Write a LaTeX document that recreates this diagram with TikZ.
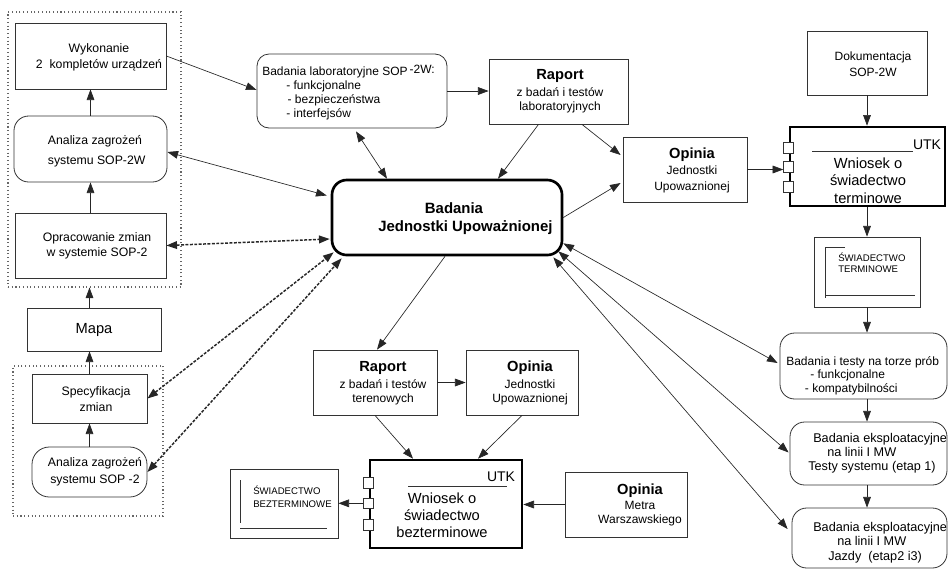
\documentclass[tikz,border=0pt]{standalone}
\usepackage{fontspec}
\setmainfont{Liberation Sans}
\usetikzlibrary{arrows.meta,calc}
\begin{document}
\begin{tikzpicture}[x=0.75pt,y=-0.75pt,
  bx/.style 2 args={minimum width=#1*0.75pt, minimum height=#2*0.75pt},
  box/.style={draw=black!80, line width=0.6pt, inner sep=0pt},
  rbox/.style={box, rounded corners=11pt},
  tbox/.style={draw=black, line width=2pt, inner sep=0pt},
  grp/.style={draw=black!60, dotted, line width=0.8pt, inner sep=0pt},
  txt/.style={inner sep=0pt, align=center, text=black},
  ltxt/.style={inner sep=0pt, align=left, anchor=west, text=black},
  arr/.style={-{Triangle[length=8pt,width=5.8pt]}, line width=0.5pt, draw=black!85},
  darr/.style={{Triangle[length=8pt,width=5.8pt]}-{Triangle[length=8pt,width=5.8pt]}, line width=0.5pt, draw=black!85},
  dotarr/.style={{Triangle[length=8pt,width=5.8pt]}-{Triangle[length=8pt,width=5.8pt]}, line width=1.1pt, dash pattern=on 2.2pt off 1.1pt, draw=black!85},
  sq/.style={draw=black!80, line width=0.6pt, fill=white, inner sep=0pt, minimum width=7.5pt, minimum height=8pt}
]
\useasboundingbox (0,0) rectangle (948,569);

% ---------- left column ----------
\node[grp, bx={173}{275}] (grp1) at (94.5,149.5) {};
\node[box, bx={151}{66}] (wyk) at (90.5,56) {};
\node[txt, font=\fontsize{9.2}{12}\selectfont] (wykT) at (99,57) {Wykonanie\\2\ \ kompletów urządzeń};
\node[rbox, bx={153}{66}] (an2w) at (90.5,149) {};
\node[txt, font=\fontsize{9.2}{15}\selectfont] (an2wT) at (95,151) {Analiza zagrożeń\\\ systemu SOP-2W};
\node[box, bx={151}{65}] (oprac) at (90.5,245.5) {};
\node[txt, font=\fontsize{9.2}{11.25}\selectfont] (opracT) at (97,246) {Opracowanie zmian\\w systemie SOP-2};

\node[box, bx={134}{43}] (mapa) at (94,329.5) {};
\node[txt, font=\fontsize{11}{13}\selectfont] (mapaT) at (94,329.5) {Mapa};

\node[grp, bx={150}{150}] (grp2) at (88,441) {};
\node[box, bx={115}{49}] (spec) at (89.5,398.5) {};
\node[txt, font=\fontsize{9.2}{12}\selectfont] (specT) at (96,399) {Specyfikacja\\zmian};
\node[rbox, rounded corners=13pt, bx={115}{50}] (an2) at (89.5,472) {};
\node[txt, font=\fontsize{9.2}{12.75}\selectfont] (an2T) at (95,471.5) {Analiza zagrożeń\\systemu SOP -2};

% ---------- top middle ----------
\node[rbox, rounded corners=9pt, bx={190}{74}] (lab) at (352,91) {};
\node[ltxt, font=\fontsize{9}{10.5}\selectfont] (labT) at (262,92.5) {Badania laboratoryjne SOP\,\raisebox{1.5pt}{-2W:}\\\hspace*{18pt}- funkcjonalne\\\hspace*{19pt}- bezpieczeństwa\\\hspace*{18pt}- interfejsów};

\node[box, bx={139}{65}] (raplab) at (558.5,91.5) {};
\node[txt, font=\fontsize{9}{10.5}\selectfont] (raplabT) at (560,91.5) {{\fontsize{11}{13}\selectfont\bfseries Raport}\\[2pt]z badań i testów\\laboratoryjnych};

\node[tbox, rounded corners=11pt, bx={230}{75}] (central) at (447,217.5) {};
\node[ltxt, font=\fontsize{11.2}{13.5}\selectfont\bfseries] (centralT) at (378,219) {\hspace*{35pt}Badania\\Jednostki Upoważnionej};

\node[box, bx={124}{65}] (opjuT) at (685,169.5) {};
\node[txt, font=\fontsize{9}{12}\selectfont] (opjuTT) at (692,170) {{\fontsize{11}{13}\selectfont\bfseries Opinia}\\Jednostki\\Upowaznionej};

% ---------- right column ----------
\node[box, bx={120}{64}] (dok) at (867,63) {};
\node[txt, font=\fontsize{9}{12}\selectfont] (dokT) at (873,64) {Dokumentacja\\SOP-2W};

\node[tbox, bx={155}{79}] (wterm) at (867.5,166.5) {};
\node[txt, font=\fontsize{10.5}{12}\selectfont] (wtermU) at (927,145) {UTK};
\node[txt, font=\fontsize{11}{13}\selectfont] (wtermT) at (868,180.5) {Wniosek o\\świadectwo\\terminowe};
\draw[line width=0.6pt, black!80] (812,151) -- (913,151);
\foreach \dy/\nm in {-18.5/a,0.5/b,20.5/c}
  \node[sq] (wtsq\nm) at ($(wterm.west)+(0,\dy)$) {};
\coordinate (wtin) at (wtsqb.west);

\node[box, bx={106}{70}] (swterm) at (867,272) {};
\draw[line width=0.6pt, black!80] (845,247) -- (825,247) -- (825,298);
\draw[line width=0.6pt, black!80] (825,295) -- (915,295);
\node[ltxt, font=\fontsize{7.2}{8.25}\selectfont] (swtermT) at (838,262.5) {ŚWIADECTWO\\TERMINOWE};

\node[rbox, bx={167}{66}] (bit) at (863.5,366) {};
\node[ltxt, font=\fontsize{9}{10}\selectfont] (bitT) at (786,375.5) {Badania i testy na torze prób\\\hspace*{18pt}- funkcjonalne\\\hspace*{14pt}- kompatybilności};

\node[rbox, bx={157}{63}] (be1) at (868.5,453.5) {};
\node[ltxt, font=\fontsize{9.5}{10.5}\selectfont] (be1T) at (808,453.5) {\hspace*{3.75pt}Badania eksploatacyjne\\\hspace*{14.25pt}na linii I MW\\Testy systemu (etap 1)};

\node[rbox, bx={155}{60}] (be2) at (869.5,538) {};
\node[ltxt, font=\fontsize{9.5}{11}\selectfont] (be2T) at (813,542.5) {Badania eksploatacyjne\\\hspace*{18pt}na linii I MW\\\hspace*{11.25pt}Jazdy\ \ (etap2 i3)};

% ---------- bottom middle ----------
\node[box, bx={124}{65}] (raptr) at (375,382.5) {};
\node[txt, font=\fontsize{9}{10.5}\selectfont] (raptrT) at (383,383) {{\fontsize{11}{13}\selectfont\bfseries Raport}\\[2pt]z badań i testów\\terenowych};

\node[box, bx={112}{65}] (opjuB) at (522,382.5) {};
\node[txt, font=\fontsize{9}{10.5}\selectfont] (opjuBT) at (530,383) {{\fontsize{11}{13}\selectfont\bfseries Opinia}\\[2pt]Jednostki\\Upowaznionej};

\node[tbox, bx={152}{88}] (wbez) at (446,504) {};
\node[txt, font=\fontsize{10.5}{12}\selectfont] (wbezU) at (501,477) {UTK};
\draw[line width=0.6pt, black!80] (408,486) -- (507,486);
\node[txt, font=\fontsize{11}{12.75}\selectfont] (wbezT) at (442,515) {Wniosek o\\świadectwo\\bezterminowe};
\foreach \dy/\nm in {-21/a,-0.7/b,21/c}
  \node[sq] (wbsq\nm) at ($(wbez.west)+(0,\dy)$) {};
\coordinate (wbout) at (wbsqb.west);

\node[box, bx={108}{69}] (swbez) at (284,503.5) {};
\draw[line width=0.6pt, black!80] (240,480) -- (240,523);
\draw[line width=0.6pt, black!80] (240,528) -- (327,528);
\node[ltxt, font=\fontsize{7.2}{9.75}\selectfont] (swbezT) at (253,496.5) {ŚWIADECTWO\\BEZTERMINOWE};

\node[box, bx={122}{65}] (opmetra) at (626,504.5) {};
\node[txt, font=\fontsize{9}{11}\selectfont] (opmetraT) at (640,505) {{\fontsize{11}{13}\selectfont\bfseries Opinia}\\Metra\\Warszawskiego};

% ---------- connectors ----------
\draw[arr] (an2w.north) -- (wyk.south);
\draw[arr] (oprac.north) -- (an2w.south);
\draw[arr] (spec.north |- mapa.north) -- (spec.north |- grp1.south);
\draw[arr] (spec.north) -- (spec.north |- mapa.south);
\draw[arr] (an2.north) -- (spec.south);
\draw[arr] (wyk.east) -- ($(lab.west)+(0,-1)$);
\draw[darr] ($(an2w.east)+(0,3)$) -- ($(central.west)+(-4,-22)$);
\draw[dotarr] (oprac.east) -- ($(central.west)+(-1,21.5)$);
\draw[dotarr] (spec.east) -- ($(central.south west)+(3,-4)$);
\draw[dotarr] (an2.east) -- ($(central.south west)+(11,2)$);
\draw[darr] ($(lab.south)+(4,3)$) -- ($(central.north)+(-60,0)$);
\draw[arr] (lab.east) -- (lab.east -| raplab.west);
\draw[arr] ($(raplab.south)+(-20,0)$) -- ($(central.north)+(51,0)$);
\draw[arr] ($(raplab.south)+(23.5,0)$) -- ($(opjuT.west)+(-2,-14.5)$);
\draw[arr] (central.east) -- ($(opjuT.west)+(-2,13.5)$);
\draw[arr] (opjuT.east) -- (wtin |- opjuT.east);
\draw[arr] (dok.south) -- (dok.south |- wterm.north);
\draw[arr] (dok.south |- wterm.south) -- (dok.south |- swterm.north);
\draw[arr] (dok.south |- swterm.south) -- (dok.south |- bit.north);
\draw[arr] (dok.south |- bit.south) -- (dok.south |- be1.north);
\draw[arr] (dok.south |- be1.south) -- (dok.south |- be2.north);
\draw[darr] ($(central.south east)+(0,-13)$) -- ($(bit.west)+(-2,-3)$);
\draw[darr] ($(central.south east)+(-5,-5)$) -- ($(be1.west)+(-1,-1)$);
\draw[darr] ($(central.south east)+(-10,1)$) -- ($(be2.west)+(-4,-9)$);
\draw[arr] ($(central.south)+(-2,0)$) -- ($(raptr.north)+(2,0)$);
\draw[arr] (raptr.east) -- (raptr.east -| opjuB.west);
\draw[arr] (raptr.south) -- ($(wbez.north)+(-33,0)$);
\draw[arr] (opjuB.south) -- ($(wbez.north)+(32,0)$);
\draw[arr] (opmetra.west) -- (opmetra.west -| wbez.east);
\draw[arr] (wbout) -- (wbout -| swbez.east);
\end{tikzpicture}
\end{document}
